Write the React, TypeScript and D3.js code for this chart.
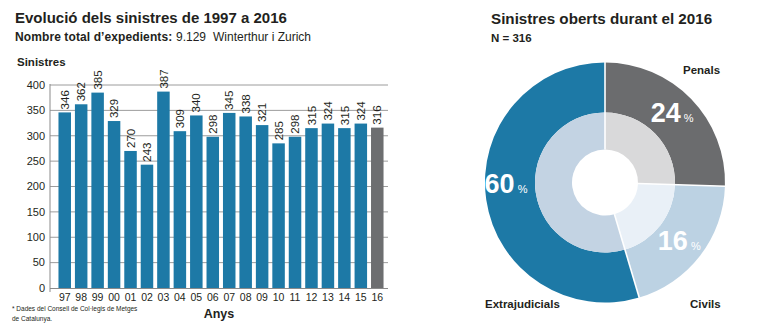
import React from "react";
import * as d3 from "d3";

const years = ["97","98","99","00","01","02","03","04","05","06","07","08","09","10","11","12","13","14","15","16"];
const claims = [346,362,385,329,270,243,387,309,340,298,345,338,321,285,298,315,324,315,324,316];
const yTicks = [0,50,100,150,200,250,300,350,400];

const pieCats = ["Penals","Civils","Extrajudicials"];
const piePct = [24,16,60];
// slice shares as drawn in the reference graphic
const pieShare = [25.5,19.9,54.6];
const outerColors = ["#6b6c6e","#bcd2e3","#1d79a6"];
const innerColors = ["#d9d9da","#e9f0f7","#c3d3e3"];

const FONT = "'Liberation Sans', Arial, sans-serif";
const BLUE = "#1d79a6";
const GRAY = "#6d6e70";
const TXT = "#231f20";

export default function App() {
  const x = d3.scaleBand<string>().domain(years).range([56.5, 385.5]).paddingInner(0.24).paddingOuter(0.12);
  const y = d3.scaleLinear().domain([0, 400]).range([288, 85]);

  const cx = 605, cy = 182.5;
  const pie = d3.pie<number>().sort(null).value(d => d)(pieShare);
  const outerArc = d3.arc<d3.PieArcDatum<number>>().innerRadius(70).outerRadius(120);
  const innerArc = d3.arc<d3.PieArcDatum<number>>().innerRadius(33).outerRadius(70);
  const labelArc = d3.arc<d3.PieArcDatum<number>>().innerRadius(95).outerRadius(95);
  const labelShift = [[-1, -3], [-1, 1], [-5, -12]];

  return (
    <svg width={779} height={334} style={{ position: "absolute", left: 0, top: 0, fontFamily: FONT }}>
      <rect width={779} height={334} fill="#fff" />
      {/* Titles */}
      <text x={15} y={23} fontSize={15} fontWeight={700} fill={TXT}>Evolució dels sinistres de 1997 a 2016</text>
      <text y={40.5} fontSize={12} fill={TXT}>
        <tspan x={15} fontWeight={700} letterSpacing={0.1}>Nombre total d’expedients:</tspan>
        <tspan x={176}>9.129</tspan>
        <tspan x={213}>Winterthur i Zurich</tspan>
      </text>
      <text x={17} y={65.5} fontSize={11.5} fontWeight={700} fill={TXT}>Sinistres</text>

      {/* grid */}
      {yTicks.map(t => (
        <g key={t}>
          {t > 0 && <line x1={50} x2={388} y1={y(t)} y2={y(t)} stroke="#9c9c9c" strokeWidth={1} />}
          <text x={45} y={y(t)} dy="0.35em" textAnchor="end" fontSize={11} fill={TXT}>{t}</text>
        </g>
      ))}
      {/* bars */}
      {claims.map((v, i) => (
        <rect key={years[i]} x={x(years[i])} y={y(v)} width={x.bandwidth()} height={y(0) - y(v)}
          fill={i === claims.length - 1 ? GRAY : BLUE} />
      ))}
      {claims.map((v, i) => {
        const px = (x(years[i]) as number) + x.bandwidth() / 2;
        const py = y(v) - 3;
        return (
          <text key={"l" + i} transform={`translate(${px},${py}) rotate(-90)`} dy="0.36em" fontSize={11.5} fill={TXT}>{v}</text>
        );
      })}
      {/* axes */}
      <line x1={50} x2={50} y1={84} y2={292} stroke="#8a8a8a" strokeWidth={1} />
      <line x1={50} x2={388} y1={288.5} y2={288.5} stroke="#8a8a8a" strokeWidth={1} />
      {years.map(yr => (
        <text key={yr} x={(x(yr) as number) + x.bandwidth() / 2} y={300.5} textAnchor="middle" fontSize={10.5} fill={TXT}>{yr}</text>
      ))}
      <text x={219} y={317.5} textAnchor="middle" fontSize={12.5} fontWeight={700} fill={TXT}>Anys</text>
      <text x={12} y={311} fontSize={6.5} fill={TXT}>* Dades del Consell de Col·legis de Metges</text>
      <text x={12} y={321} fontSize={6.5} fill={TXT}>de Catalunya.</text>

      {/* Pie */}
      <text x={491} y={24} fontSize={15.2} fontWeight={700} fill={TXT}>Sinistres oberts durant el 2016</text>
      <text x={491} y={42} fontSize={11.5} fontWeight={700} fill={TXT}>N = 316</text>
      <g transform={`translate(${cx},${cy})`}>
        {pie.map((p, i) => (
          <g key={pieCats[i]}>
            <path d={outerArc(p) as string} fill={outerColors[i]} />
            <path d={innerArc(p) as string} fill={innerColors[i]} />
          </g>
        ))}
        {pie.map((p, i) => (
          <line key={"s" + i} x1={33 * Math.sin(p.startAngle)} y1={-33 * Math.cos(p.startAngle)}
            x2={121 * Math.sin(p.startAngle)} y2={-121 * Math.cos(p.startAngle)} stroke="#fff" strokeWidth={1.6} />
        ))}
        {pie.map((p, i) => {
          const [lx, ly] = labelArc.centroid(p);
          return (
            <text key={"p" + i} x={lx + labelShift[i][0]} y={ly + labelShift[i][1]} dy={9} textAnchor="middle" fill="#fff" fontWeight={700}>
              <tspan fontSize={27}>{piePct[i]}</tspan>
              <tspan fontSize={11} fontWeight={400} dx={3}>%</tspan>
            </text>
          );
        })}
      </g>
      <text x={683} y={74} fontSize={11.5} fontWeight={700} fill={TXT}>Penals</text>
      <text x={690} y={307.5} fontSize={11.5} fontWeight={700} fill={TXT}>Civils</text>
      <text x={485} y={307.5} fontSize={11.5} fontWeight={700} fill={TXT}>Extrajudicials</text>
    </svg>
  );
}
